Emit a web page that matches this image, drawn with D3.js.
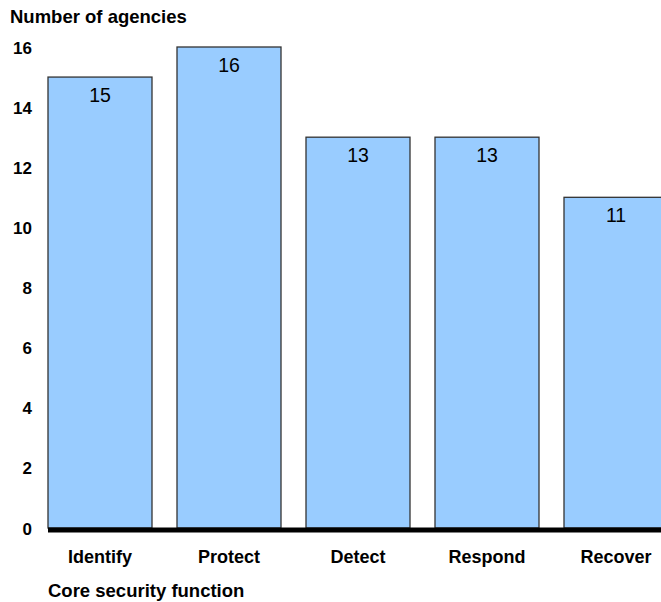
<!DOCTYPE html>
<html><head><meta charset="utf-8">
<script src="https://cdn.jsdelivr.net/npm/d3@7"></script>
<style>body{margin:0;background:#fff}svg{display:block;font-family:"Liberation Sans",Arial,sans-serif}</style>
</head><body><svg id="c" width="661" height="602"></svg>
<script>
const categories = ["Identify","Protect","Detect","Respond","Recover"];
const values = [15,16,13,13,11];
const yTicks = [0,2,4,6,8,10,12,14,16];
const yTitle = "Number of agencies";
const xTitle = "Core security function";

const svg = d3.select("#c");
const x = d3.scaleBand().domain(categories).range([48, 668]).paddingInner(25/129).paddingOuter(0);
const y = d3.scaleLinear().domain([0,16]).range([528, 47]);

svg.append("text").attr("x",10).attr("y",23).attr("font-size",18.5).attr("font-weight","bold").text(yTitle);

svg.append("g").selectAll("text").data(yTicks).join("text")
  .attr("x",32).attr("y",d=>y(d)+6.5).attr("text-anchor","end")
  .attr("font-size",17).attr("font-weight","bold").text(d=>d);

svg.append("g").selectAll("rect").data(values).join("rect")
  .attr("x",(d,i)=>x(categories[i])).attr("y",d=>y(d))
  .attr("width",x.bandwidth()).attr("height",d=>y(0)-y(d))
  .attr("fill","#99ccff").attr("stroke","#333").attr("stroke-width",1.3);

svg.append("g").selectAll("text").data(values).join("text")
  .attr("x",(d,i)=>x(categories[i])+x.bandwidth()/2).attr("y",d=>y(d)+24.5)
  .attr("text-anchor","middle").attr("font-size",19.5).text(d=>d);

svg.append("line").attr("x1",48).attr("x2",661).attr("y1",y(0)+2).attr("y2",y(0)+2)
  .attr("stroke","#000").attr("stroke-width",5);

svg.append("g").selectAll("text").data(categories).join("text")
  .attr("x",d=>x(d)+x.bandwidth()/2).attr("y",563)
  .attr("text-anchor","middle").attr("font-size",18).attr("font-weight","bold").text(d=>d);

svg.append("text").attr("x",48).attr("y",597).attr("font-size",18.5).attr("font-weight","bold").text(xTitle);
</script></body></html>
